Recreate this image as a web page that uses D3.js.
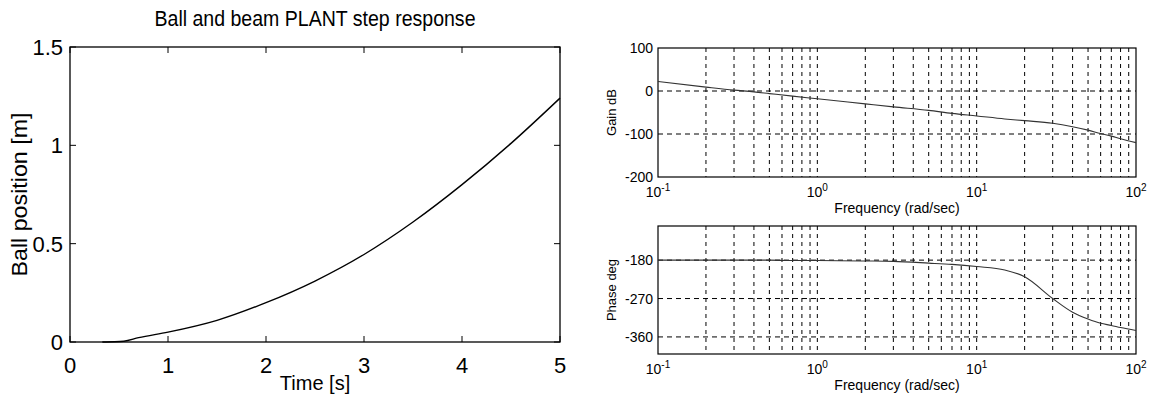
<!DOCTYPE html>
<html>
<head>
<meta charset="utf-8">
<script src="https://cdnjs.cloudflare.com/ajax/libs/d3/7.8.5/d3.min.js"></script>
<style>
  body { margin: 0; background: #fff; }
  svg { display: block; font-family: "Liberation Sans", Arial, sans-serif; }
</style>
</head>
<body>
<div id="chart"></div>
<script>
// step response (left)
var stepTime = [0.33, 0.45, 0.55, 0.7, 1, 1.5, 2, 2.5, 3, 3.5, 4, 4.5, 5];
var stepPos = [0, 0.001, 0.004, 0.022, 0.05, 0.11, 0.2, 0.31, 0.445, 0.61, 0.8, 1.01, 1.24];
var stepXTicks = [0, 1, 2, 3, 4, 5];
var stepYTicks = [0, 0.5, 1, 1.5];

// bode (right)
var freq = [0.1, 0.2, 0.3, 0.4, 0.5, 0.7, 1, 2, 3, 5, 7, 10, 15, 20, 30, 40, 50, 60, 70, 80, 100];
var gainDb = [22, 9, 2, -2, -6, -12, -18, -30, -37, -45, -52, -58, -65, -69, -75, -83, -91, -99, -105, -111, -120];
var phaseDeg = [-180, -180, -180, -180, -180, -181, -181, -182, -183, -187, -190, -195, -203, -219, -270, -302, -318, -328, -333, -338, -345];
var decadeTicks = [0.1, 1, 10, 100];
var decadeExp = ["-1", "0", "1", "2"];
var gainTicks = [100, 0, -100, -200];
var phaseTicks = [-180, -270, -360];

var W = 1151, H = 396;
var svg = d3.select('#chart').append('svg')
  .attr('width', W)
  .attr('height', H);

// ---------- left: step response ----------
var L = {left: 70, right: 560, top: 47, bottom: 342};
var tx = d3.scaleLinear().domain([0, 5]).range([L.left, L.right]);
var ty = d3.scaleLinear().domain([0, 1.5]).range([L.bottom, L.top]);

var left = svg.append('g').classed('step', true);

left.append('rect')
  .attr('x', L.left).attr('y', L.top)
  .attr('width', L.right - L.left).attr('height', L.bottom - L.top)
  .attr('fill', 'none').attr('stroke', '#000').attr('stroke-width', 1.3);

// inward ticks on all four sides
stepXTicks.forEach(function(t) {
  left.append('line').attr('x1', tx(t)).attr('x2', tx(t))
    .attr('y1', L.bottom).attr('y2', L.bottom - 6).attr('stroke', '#000');
  left.append('line').attr('x1', tx(t)).attr('x2', tx(t))
    .attr('y1', L.top).attr('y2', L.top + 6).attr('stroke', '#000');
  left.append('text')
    .attr('x', tx(t)).attr('y', L.bottom + 31)
    .attr('text-anchor', 'middle')
    .style('font-size', '22px')
    .text(d3.format('d')(t));
});
stepYTicks.forEach(function(v) {
  left.append('line').attr('y1', ty(v)).attr('y2', ty(v))
    .attr('x1', L.left).attr('x2', L.left + 6).attr('stroke', '#000');
  left.append('line').attr('y1', ty(v)).attr('y2', ty(v))
    .attr('x1', L.right).attr('x2', L.right - 6).attr('stroke', '#000');
  left.append('text')
    .attr('x', L.left - 7).attr('y', ty(v) + 8)
    .attr('text-anchor', 'end')
    .style('font-size', '22px')
    .text(v === 0 ? '0' : (v % 1 === 0 ? String(v) : v.toFixed(1)));
});

var stepLine = d3.line()
  .x(function(d, i) { return tx(stepTime[i]); })
  .y(function(d) { return ty(d); })
  .curve(d3.curveMonotoneX);

left.append('path')
  .datum(stepPos)
  .attr('d', stepLine)
  .attr('fill', 'none')
  .attr('stroke', '#000')
  .attr('stroke-width', 1.4);

left.append('text')
  .attr('x', (L.left + L.right) / 2).attr('y', 26)
  .attr('text-anchor', 'middle')
  .attr('textLength', 321).attr('lengthAdjust', 'spacingAndGlyphs')
  .style('font-size', '22px')
  .text('Ball and beam PLANT step response');

// sits at the very bottom edge, as in the original
left.append('text')
  .attr('x', (L.left + L.right) / 2).attr('y', 390)
  .attr('text-anchor', 'middle')
  .style('font-size', '20px')
  .text('Time [s]');

left.append('text')
  .attr('transform', 'translate(27,' + ((L.top + L.bottom) / 2) + ') rotate(-90)')
  .attr('text-anchor', 'middle')
  .attr('textLength', 164).attr('lengthAdjust', 'spacingAndGlyphs')
  .style('font-size', '22px')
  .text('Ball position [m]');

// ---------- right: bode plots ----------
function bodePanel(top, bottom, yDomain, yTicks, values, ylabel) {
  var P = {left: 658, right: 1136, top: top, bottom: bottom};
  var x = d3.scaleLog().domain([0.1, 100]).range([P.left, P.right]);
  var y = d3.scaleLinear().domain(yDomain).range([P.bottom, P.top]);
  var g = svg.append('g').classed('bode', true);

  // dashed grid: every log tick and each labelled value
  x.ticks().forEach(function(f) {
    if (f <= 0.1 || f >= 100) return;
    g.append('line')
      .attr('x1', x(f)).attr('x2', x(f))
      .attr('y1', P.top).attr('y2', P.bottom)
      .attr('stroke', '#000').attr('stroke-width', 1)
      .attr('stroke-dasharray', '4,4');
  });
  yTicks.forEach(function(v) {
    if (v > yDomain[0] && v < yDomain[1]) {
      g.append('line')
        .attr('x1', P.left).attr('x2', P.right)
        .attr('y1', y(v)).attr('y2', y(v))
        .attr('stroke', '#000').attr('stroke-width', 1)
        .attr('stroke-dasharray', '5,4');
    }
    g.append('text')
      .attr('x', P.left - 5).attr('y', y(v) + 5)
      .attr('text-anchor', 'end')
      .style('font-size', '14px')
      .text(v);
  });

  g.append('rect')
    .attr('x', P.left).attr('y', P.top)
    .attr('width', P.right - P.left).attr('height', P.bottom - P.top)
    .attr('fill', 'none').attr('stroke', '#000').attr('stroke-width', 1.2);

  decadeTicks.forEach(function(f, i) {
    var t = g.append('text')
      .attr('x', x(f)).attr('y', P.bottom + 20)
      .attr('text-anchor', 'middle')
      .style('font-size', '14px');
    t.append('tspan').text('10');
    t.append('tspan').attr('dy', -6).style('font-size', '10px').text(decadeExp[i]);
  });

  var line = d3.line()
    .x(function(d, i) { return x(freq[i]); })
    .y(function(d) { return y(d); })
    .curve(d3.curveMonotoneX);

  g.append('path')
    .datum(values)
    .attr('d', line)
    .attr('fill', 'none')
    .attr('stroke', '#333')
    .attr('stroke-width', 1.1);

  g.append('text')
    .attr('x', (P.left + P.right) / 2).attr('y', P.bottom + 36)
    .attr('text-anchor', 'middle')
    .style('font-size', '14px')
    .text('Frequency (rad/sec)');

  g.append('text')
    .attr('transform', 'translate(616,' + ((P.top + P.bottom) / 2) + ') rotate(-90)')
    .attr('text-anchor', 'middle')
    .style('font-size', '13px')
    .text(ylabel);
}

bodePanel(48, 177, [-200, 100], gainTicks, gainDb, 'Gain dB');
bodePanel(226, 354, [-400, -100], phaseTicks, phaseDeg, 'Phase deg');
</script>
</body>
</html>
